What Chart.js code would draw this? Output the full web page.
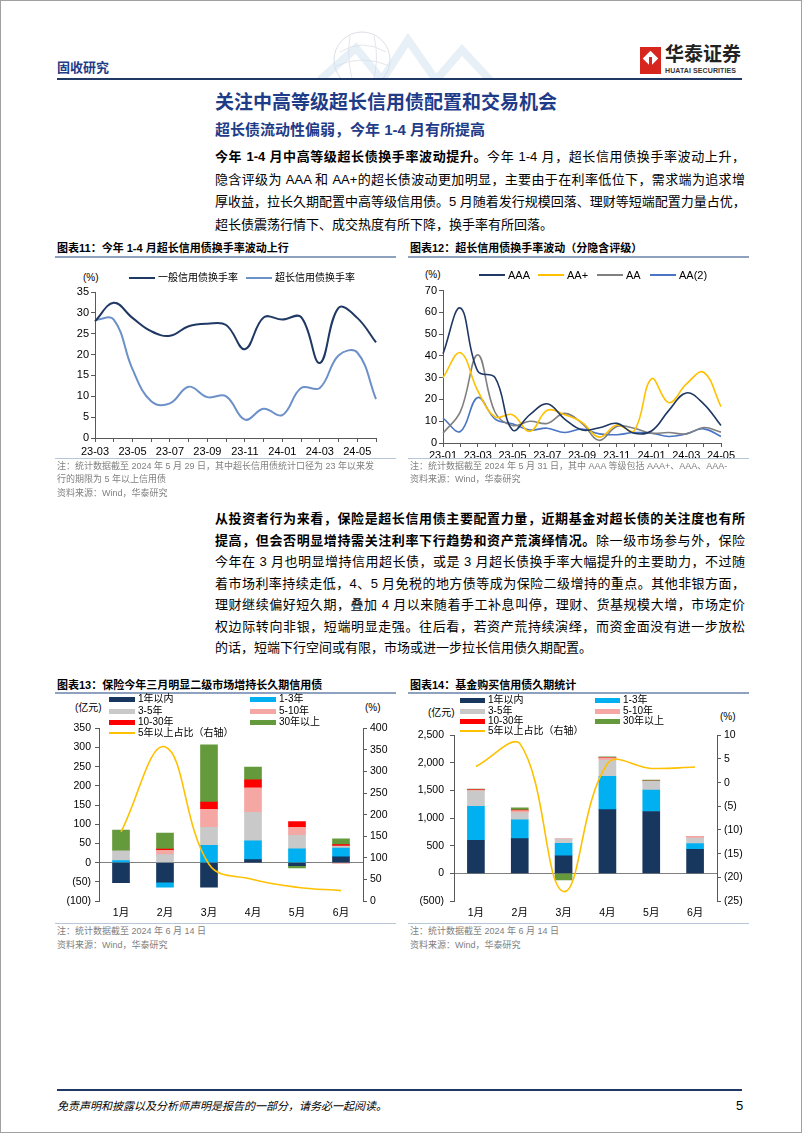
<!DOCTYPE html>
<html lang="zh-CN">
<head>
<meta charset="utf-8">
<title>关注中高等级超长信用债配置和交易机会</title>
<script src="https://cdn.jsdelivr.net/npm/chart.js@4.4.1/dist/chart.umd.min.js"></script>
<style>
body { margin:0; background:#fff; }
#page { position:relative; width:802px; height:1133px; overflow:hidden; background:#fff;
  font-family:"Liberation Sans","Noto Sans CJK SC",sans-serif; color:#000; }
.abs { position:absolute; }
.frame { left:0; top:0; width:800px; height:1131px; border:1px solid #a0a0a0; }
.txt { left:215px; width:530px; font-size:13px; line-height:20px; height:20px; white-space:nowrap;
  text-align:justify; text-align-last:justify; }
.txt.last { text-align-last:left; }
.ctitle { font-size:11px; font-weight:bold; line-height:14px; white-space:nowrap; }
.note { font-size:9px; color:#808080; line-height:12px; white-space:nowrap; }
.lg { font-size:10px; line-height:14px; white-space:nowrap; }
.unit { font-size:10px; line-height:14px; white-space:nowrap; }
canvas { position:absolute; }
</style>
</head>
<body>
<div id="page">
  <div class="abs frame"></div>

  <!-- header -->
  <div class="abs" style="left:57px;top:57px;font-size:13px;font-weight:bold;color:#1f3c88;">固收研究</div>
  <svg class="abs" style="left:290px;top:24px" width="240" height="56">
    <circle cx="72" cy="36" r="28" fill="none" stroke="#dcdfe4" stroke-width="1"/>
    <path d="M50 28 Q72 14 96 28 M46 42 Q72 30 100 42 M60 12 Q56 36 64 62 M84 12 Q90 36 82 62" fill="none" stroke="#e3e6ea" stroke-width="1"/>
    <polyline points="30,56 66,24 92,56 118,16 146,56 172,26 200,56" fill="none" stroke="#d3e2f1" stroke-width="8" opacity="0.55"/>
  </svg>
  <div class="abs" style="left:640px;top:47px;width:21px;height:27px;background:#d7261e;"></div>
  <div class="abs" style="left:645px;top:53px;width:11px;height:11px;background:#fff;transform:rotate(45deg);"></div>
  <div class="abs" style="left:649px;top:57px;width:3px;height:16px;background:#d7261e;"></div>
  <div class="abs" style="left:665px;top:44px;font-size:19px;font-weight:bold;color:#222;line-height:22px;">华泰证券</div>
  <div class="abs" style="left:665px;top:66px;font-size:7px;font-weight:bold;color:#333;line-height:9px;letter-spacing:0.1px;">HUATAI SECURITIES</div>
  <div class="abs" style="left:57px;top:78px;width:685px;height:2px;background:#1f3864;"></div>

  <!-- headings -->
  <div class="abs" style="left:215px;top:91px;font-size:19px;font-weight:bold;color:#1f3c88;line-height:24px;white-space:nowrap;">关注中高等级超长信用债配置和交易机会</div>
  <div class="abs" style="left:215px;top:120px;font-size:15px;font-weight:bold;color:#1f3c88;line-height:20px;white-space:nowrap;">超长债流动性偏弱，今年 1-4 月有所提高</div>

  <div class="abs txt" style="top:147px"><b>今年 1-4 月中高等级超长债换手率波动提升。</b>今年 1-4 月，超长信用债换手率波动上升，</div>
  <div class="abs txt" style="top:170px">隐含评级为 AAA 和 AA+的超长债波动更加明显，主要由于在利率低位下，需求端为追求增</div>
  <div class="abs txt" style="top:192px">厚收益，拉长久期配置中高等级信用债。5 月随着发行规模回落、理财等短端配置力量占优，</div>
  <div class="abs txt last" style="top:215px">超长债震荡行情下、成交热度有所下降，换手率有所回落。</div>

  <!-- chart 11 / 12 titles -->
  <div class="abs ctitle" style="left:57px;top:241px;">图表11：今年 1-4 月超长信用债换手率波动上行</div>
  <div class="abs" style="left:55px;top:256px;width:341px;height:2px;background:#8ea2c0;"></div>
  <div class="abs ctitle" style="left:410px;top:241px;">图表12：超长信用债换手率波动（分隐含评级）</div>
  <div class="abs" style="left:408px;top:256px;width:341px;height:2px;background:#8ea2c0;"></div>

  <div class="abs unit" style="left:83px;top:271px;">(%)</div>
  <div class="abs unit" style="left:425px;top:268px;">(%)</div>

  <canvas id="c11" width="340" height="178" style="left:50px;top:282px;"></canvas>
  <canvas id="c12" width="345" height="178" style="left:405px;top:282px;"></canvas>

  <div class="abs" style="left:55px;top:458px;width:341px;height:1px;background:#b8c6da;"></div>
  <div class="abs" style="left:408px;top:458px;width:341px;height:1px;background:#b8c6da;"></div>
  <div class="abs note" style="left:57px;top:460px;">注：统计数据截至 2024 年 5 月 29 日，其中超长信用债统计口径为 23 年以来发</div>
  <div class="abs note" style="left:57px;top:473px;">行的期限为 5 年以上信用债</div>
  <div class="abs note" style="left:57px;top:487px;">资料来源：Wind，华泰研究</div>
  <div class="abs note" style="left:410px;top:460px;">注：统计数据截至 2024 年 5 月 31 日，其中 AAA 等级包括 AAA+、AAA、AAA-</div>
  <div class="abs note" style="left:410px;top:473px;">资料来源：Wind，华泰研究</div>

  <!-- paragraph 2 -->
  <div class="abs txt" style="top:509px"><b>从投资者行为来看，保险是超长信用债主要配置力量，近期基金对超长债的关注度也有所</b></div>
  <div class="abs txt" style="top:531px"><b>提高，但会否明显增持需关注利率下行趋势和资产荒演绎情况。</b>除一级市场参与外，保险</div>
  <div class="abs txt" style="top:552px">今年在 3 月也明显增持信用超长债，或是 3 月超长债换手率大幅提升的主要助力，不过随</div>
  <div class="abs txt" style="top:574px">着市场利率持续走低，4、5 月免税的地方债等成为保险二级增持的重点。其他非银方面，</div>
  <div class="abs txt" style="top:595px">理财继续偏好短久期，叠加 4 月以来随着手工补息叫停，理财、货基规模大增，市场定价</div>
  <div class="abs txt" style="top:617px">权边际转向非银，短端明显走强。往后看，若资产荒持续演绎，而资金面没有进一步放松</div>
  <div class="abs txt last" style="top:638px">的话，短端下行空间或有限，市场或进一步拉长信用债久期配置。</div>

  <!-- chart 13 / 14 titles -->
  <div class="abs ctitle" style="left:57px;top:678px;">图表13：保险今年三月明显二级市场增持长久期信用债</div>
  <div class="abs" style="left:55px;top:692px;width:341px;height:2px;background:#8ea2c0;"></div>
  <div class="abs ctitle" style="left:410px;top:678px;">图表14：基金购买信用债久期统计</div>
  <div class="abs" style="left:408px;top:692px;width:341px;height:2px;background:#8ea2c0;"></div>

  <div class="abs unit" style="left:75px;top:701px;">(亿元)</div>
  <div class="abs unit" style="left:365px;top:701px;">(%)</div>
  <div class="abs unit" style="left:428px;top:706px;">(亿元)</div>
  <div class="abs unit" style="left:720px;top:710px;">(%)</div>

  <canvas id="c13" width="345" height="205" style="left:50px;top:718px;"></canvas>
  <canvas id="c14" width="345" height="200" style="left:405px;top:723px;"></canvas>

  <div class="abs" style="left:55px;top:923px;width:341px;height:1px;background:#b8c6da;"></div>
  <div class="abs" style="left:408px;top:923px;width:341px;height:1px;background:#b8c6da;"></div>
  <div class="abs note" style="left:57px;top:925px;">注：统计数据截至 2024 年 6 月 14 日</div>
  <div class="abs note" style="left:57px;top:939px;">资料来源：Wind，华泰研究</div>
  <div class="abs note" style="left:410px;top:925px;">注：统计数据截至 2024 年 6 月 14 日</div>
  <div class="abs note" style="left:410px;top:939px;">资料来源：Wind，华泰研究</div>

  <!-- footer -->
  <div class="abs" style="left:57px;top:1089px;width:685px;height:2px;background:#1f3864;"></div>
  <div class="abs" style="left:57px;top:1099px;font-size:11px;font-style:italic;line-height:14px;white-space:nowrap;">免责声明和披露以及分析师声明是报告的一部分，请务必一起阅读。</div>
  <div class="abs" style="left:736px;top:1098px;font-size:13px;line-height:16px;">5</div>
</div>

<script>
// chart 11: turnover, general vs ultra-long credit bonds
const months11 = ['23-03','23-04','23-05','23-06','23-07','23-08','23-09','23-10','23-11','23-12','24-01','24-02','24-03','24-04','24-05','24-06'];
const generalRate = [28.0, 32.4, 28.8, 25.6, 24.5, 26.8, 27.4, 27.1, 21.3, 28.9, 28.4, 29.0, 18.0, 31.2, 28.8, 22.9];
const ultraRate = [28.3, 28.4, 16.5, 8.8, 8.3, 12.3, 9.8, 10.0, 4.4, 7.0, 5.5, 12.0, 12.0, 19.8, 20.5, 9.3];
const names11 = ['一般信用债换手率', '超长信用债换手率'];

// chart 12: ultra-long turnover by implied rating
const months12 = ['23-01','23-02','23-03','23-04','23-05','23-06','23-07','23-08','23-09','23-10','23-11','23-12','24-01','24-02','24-03','24-04','24-05'];
const rateAAA = [41, 62, 33, 30, 6, 13, 18, 11, 6, 7, 9, 4.5, 5.5, 15, 23, 18, 8];
const rateAAplus = [30, 41.5, 24, 12, 13, 5.3, 15, 13, 9.5, 2.7, 8.3, 5.6, 29.5, 18.5, 27, 32.5, 16.7];
const rateAA = [4.5, 14.4, 40.5, 14, 8, 10, 9, 13.6, 9, 1.2, 7.6, 6.8, 4.5, 4.8, 4.2, 7.1, 5];
const rateAA2 = [11.4, 5.3, 20.9, 11, 8.8, 6, 6.8, 4.8, 6.4, 4.2, 3.8, 4.8, 4.5, 3, 4.2, 6.5, 3];
const names12 = ['AAA', 'AA+', 'AA', 'AA(2)'];

// charts 13/14: monthly net buying by tenor
const months = ['1月','2月','3月','4月','5月','6月'];
const tenorNames = ['1年以内', '1-3年', '3-5年', '5-10年', '10-30年', '30年以上'];
const shareName = '5年以上占比（右轴）';

const insLt1 = [-52, -51, -64, 8, -8, 15];
const ins1to3 = [5, -13, 45, 49, 36, 23];
const ins3to5 = [26, 21, 47, 74, 35, 5];
const ins5to10 = [0, 11, 47, 64, 21, -2];
const ins10to30 = [0, 3, 19, 21, 15, 4];
const ins30plus = [54, 42, 149, 33, -6, 15];
const insShare = [160, 357, 85, 50, 32, 24];

const fundLt1 = [600, 630, 320, 1155, 1120, 435];
const fund1to3 = [615, 340, 222, 600, 390, 106];
const fund3to5 = [280, 130, 80, 295, 155, 100];
const fund5to10 = [15, 35, 0, 40, 5, 28];
const fund10to30 = [5, 10, 0, 5, 0, 3];
const fund30plus = [10, 40, -120, 15, 20, 0];
const fundShare = [3.4, 8.3, -23, 4.0, 3.0, 3.3];

const tenorColors = ['#17375e', '#00b0f0', '#c9c9c9', '#f4a7a3', '#ff0000', '#64993c'];
const yellow = '#ffc000';
const axisColor = '#595959';

Chart.defaults.font.family = '"Liberation Sans", "Noto Sans CJK SC", sans-serif';
Chart.defaults.color = '#000';

const page = document.getElementById('page');

function addLegend(x, y, text, color, kind, w, size) {
  const h = kind === 'bar' ? 5 : 2;
  const sw = document.createElement('div');
  sw.className = 'abs';
  sw.style.cssText = 'left:' + x + 'px;top:' + (y - h / 2) + 'px;width:' + w + 'px;height:' + h + 'px;background:' + color;
  page.appendChild(sw);
  const t = document.createElement('div');
  t.className = 'abs lg';
  t.style.left = (x + w + 3) + 'px';
  t.style.top = (y - 7) + 'px';
  if (size) t.style.fontSize = size + 'px';
  t.textContent = text;
  page.appendChild(t);
}

function paren(v) {
  const s = Math.abs(v).toLocaleString('en-US');
  return v < 0 ? '(' + s + ')' : s;
}

function lineSet(label, data, color, width) {
  return { label: label, data: data, borderColor: color, borderWidth: width,
           pointRadius: 0, tension: 0.4, fill: false };
}

function axisY(min, max, step, width, pos, pad) {
  return {
    position: pos, min: min, max: max,
    afterFit: s => { s.width = width; },
    ticks: { stepSize: step, padding: pad, font: { size: 11 }, callback: v => paren(v) },
    grid: { drawOnChartArea: false, tickLength: 4, color: axisColor },
    border: { display: true, color: axisColor }
  };
}

// chart 11
addLegend(129, 278, names11[0], '#1f3864', 'line', 26);
addLegend(246, 278, names11[1], '#6c90c8', 'line', 26);

new Chart(document.getElementById('c11'), {
  type: 'line',
  data: {
    labels: months11,
    datasets: [
      lineSet(names11[0], generalRate, '#1f3864', 2),
      lineSet(names11[1], ultraRate, '#6c90c8', 2)
    ]
  },
  options: {
    responsive: false, animation: false, devicePixelRatio: 1,
    layout: { padding: { top: 10, right: 14, left: 0, bottom: 0 } },
    plugins: { legend: { display: false }, tooltip: { enabled: false } },
    scales: {
      x: {
        offset: false,
        afterFit: s => { s.height = 22; },
        ticks: { autoSkip: false, maxRotation: 0, padding: 3, font: { size: 11 },
                 callback: (v, i) => i % 2 === 0 ? months11[i] : '' },
        grid: { drawOnChartArea: false, tickLength: 4, color: axisColor },
        border: { display: true, color: axisColor }
      },
      y: axisY(0, 35, 5, 45, 'left', 2)
    }
  }
});

// chart 12
const colors12 = ['#1f3864', yellow, '#808080', '#4a74c4'];
const legendX12 = [479, 538, 597, 650];
names12.forEach((n, i) => addLegend(legendX12[i], 275, n, colors12[i], 'line', 26, 11));

new Chart(document.getElementById('c12'), {
  type: 'line',
  data: {
    labels: months12,
    datasets: [
      lineSet(names12[0], rateAAA, colors12[0], 1.6),
      lineSet(names12[1], rateAAplus, colors12[1], 1.6),
      lineSet(names12[2], rateAA, colors12[2], 1.6),
      lineSet(names12[3], rateAA2, colors12[3], 1.6)
    ]
  },
  options: {
    responsive: false, animation: false, devicePixelRatio: 1,
    layout: { padding: { top: 7, right: 29, left: 0, bottom: 0 } },
    plugins: { legend: { display: false }, tooltip: { enabled: false } },
    scales: {
      x: {
        offset: false,
        afterFit: s => { s.height = 17; },
        ticks: { autoSkip: false, maxRotation: 0, padding: 2, font: { size: 11 },
                 callback: (v, i) => i % 2 === 0 ? months12[i] : '' },
        grid: { drawOnChartArea: false, tickLength: 4, color: axisColor },
        border: { display: true, color: axisColor }
      },
      y: axisY(0, 70, 10, 38, 'left', 2)
    }
  }
});

// charts 13 & 14: stacked bars + share line on right axis
function barSets(series) {
  return series.map((d, i) => ({
    type: 'bar', label: tenorNames[i], data: d, backgroundColor: tenorColors[i],
    stack: 's', order: 1, barThickness: 17, yAxisID: 'y'
  }));
}

function comboOptions(left, right, yw, y1w) {
  const yl = axisY(left[0], left[1], left[2], yw, 'left', left[3]);
  yl.stacked = true;
  yl.ticks.font = { size: 10.5 };
  yl.grid = { drawOnChartArea: true, tickLength: 4, tickColor: axisColor,
              color: c => c.tick && c.tick.value === 0 ? '#7f7f7f' : 'rgba(0,0,0,0)' };
  const yr = axisY(right[0], right[1], right[2], y1w, 'right', right[3]);
  yr.ticks.font = { size: 10.5 };
  return {
    responsive: false, animation: false, devicePixelRatio: 1,
    layout: { padding: { top: 7, right: 0, left: 0, bottom: 0 } },
    plugins: { legend: { display: false }, tooltip: { enabled: false } },
    scales: {
      x: {
        stacked: true,
        afterFit: s => { s.height = 22; },
        ticks: { padding: 6, font: { size: 10.5 } },
        grid: { display: false, drawTicks: false },
        border: { display: false }
      },
      y: yl,
      y1: yr
    }
  };
}

function comboLegend(x1, x2, rows, w) {
  for (let i = 0; i < 6; i++) {
    addLegend(i % 2 === 0 ? x1 : x2, rows[Math.floor(i / 2)], tenorNames[i], tenorColors[i], 'bar', w);
  }
  addLegend(x1, rows[3], shareName, yellow, 'line', w);
}

comboLegend(109, 250, [699, 711, 722, 733], 26);
new Chart(document.getElementById('c13'), {
  data: {
    labels: months,
    datasets: barSets([insLt1, ins1to3, ins3to5, ins5to10, ins10to30, ins30plus]).concat([{
      type: 'line', label: shareName, data: insShare, borderColor: yellow, borderWidth: 1.6,
      pointRadius: 0, tension: 0.4, yAxisID: 'y1', order: 0
    }])
  },
  options: comboOptions([-100, 350, 50, 4], [0, 400, 50, 3], 49, 32)
});

comboLegend(460, 595, [700, 711, 721, 731], 25);
new Chart(document.getElementById('c14'), {
  data: {
    labels: months,
    datasets: barSets([fundLt1, fund1to3, fund3to5, fund5to10, fund10to30, fund30plus]).concat([{
      type: 'line', label: shareName, data: fundShare, borderColor: yellow, borderWidth: 1.6,
      pointRadius: 0, tension: 0.4, yAxisID: 'y1', order: 0
    }])
  },
  options: comboOptions([-500, 2500, 500, 6], [-25, 10, 5, 3], 49, 33)
});
</script>
</body>
</html>
